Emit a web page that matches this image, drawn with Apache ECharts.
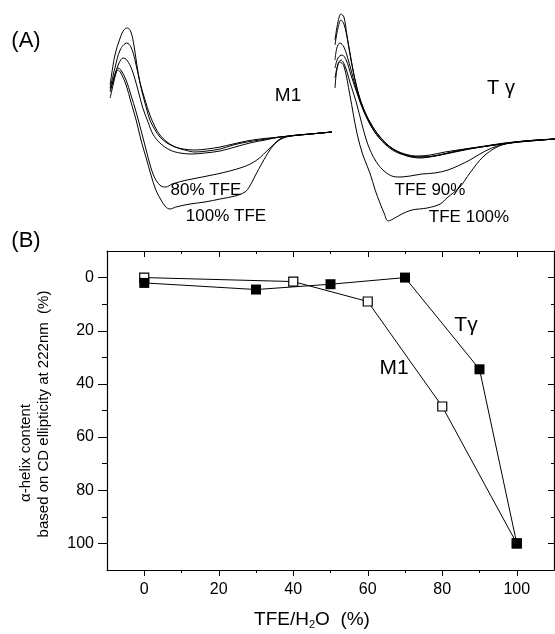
<!DOCTYPE html>
<html>
<head>
<meta charset="utf-8">
<script src="https://cdn.jsdelivr.net/npm/echarts@6/dist/echarts.min.js"></script>
<style>
html,body{margin:0;padding:0;background:#fff;}
#chart{width:555px;height:634px;}
</style>
</head>
<body>
<div id="chart"></div>
<script>
// ---------- Panel A: CD spectra (wavelength nm, ellipticity arbitrary units) ----------
const m1_a = [[190.3,46],[191.6,76],[193.0,93],[194.0,101],[195.0,103],[195.9,99],[196.7,86],[197.5,66],[198.3,49],[199.1,36],[200.2,21],[201.0,11],[202.4,1],[203.7,-6],[205.6,-12],[207.8,-16],[209.9,-18],[213.1,-19],[216.4,-18],[219.9,-16],[223.4,-13],[227.1,-10],[230.6,-8],[236.0,-6],[241.4,-4],[250.0,-1]];
const m1_b = [[190.3,43],[191.6,63],[193.0,81],[194.8,88],[195.9,84],[197.0,71],[198.3,49],[199.7,31],[201.0,16],[202.4,4],[203.7,-4],[205.6,-11],[207.8,-16],[210.4,-19],[213.1,-21],[216.4,-20],[219.9,-18],[223.4,-14],[227.1,-11],[230.6,-9],[236.0,-6],[241.4,-4],[250.0,-1]];
const m1_c = [[190.3,39],[191.6,56],[192.7,68],[193.8,73],[194.8,71],[196.2,61],[197.8,41],[199.1,23],[200.5,9],[201.8,-3],[203.7,-12],[206.4,-19],[209.1,-22],[212.3,-23],[215.8,-22],[219.9,-20],[223.9,-16],[227.9,-12],[232.0,-9],[236.0,-6],[241.4,-4],[250.0,-1]];
const m1_80 = [[190.3,41],[191.1,51],[191.9,60],[192.4,63],[193.2,61],[194.6,51],[195.9,36],[197.3,19],[198.6,1],[200.0,-19],[201.3,-37],[202.6,-49],[204.0,-55],[205.3,-56],[207.0,-53],[211.0,-49],[219.1,-43],[226.1,-36],[229.8,-29],[233.3,-17],[236.0,-8],[238.7,-5],[244.1,-3],[250.0,-1]];
const m1_100 = [[190.3,33],[191.1,46],[191.9,58],[192.4,61],[193.2,58],[194.6,46],[195.9,29],[197.3,11],[198.6,-9],[200.0,-27],[201.3,-44],[202.6,-59],[204.0,-69],[205.3,-76],[206.4,-78],[208.0,-76],[211.8,-73],[215.8,-71],[219.9,-68],[223.9,-65],[226.6,-61],[227.9,-55],[229.3,-45],[231.2,-32],[233.3,-19],[235.5,-10],[238.7,-5],[244.1,-3],[250.0,-1]];

const tg_a = [[190.0,100],[190.8,118],[191.6,126],[192.4,123],[193.2,105],[194.3,80],[195.7,55],[197.3,35],[199.4,18],[202.1,3],[205.3,-8],[208.8,-14],[212.3,-16],[215.6,-15],[219.6,-12],[225.0,-9],[230.4,-6],[235.7,-3],[241.1,-1],[249.2,1]];
const tg_b = [[190.0,95],[190.8,112],[191.6,120],[192.4,116],[193.5,98],[194.6,75],[195.9,52],[197.5,33],[199.7,16],[202.4,2],[205.6,-9],[209.1,-15],[212.9,-17],[216.4,-16],[220.4,-13],[225.8,-9],[231.2,-6],[236.5,-3],[241.9,-1],[249.2,1]];
const tg_c = [[190.0,80],[190.5,92],[191.3,97],[192.4,93],[193.8,77],[195.4,55],[197.0,36],[198.9,20],[201.3,5],[204.3,-6],[207.5,-13],[211.0,-17],[214.2,-17],[218.3,-15],[223.6,-10],[229.0,-7],[234.4,-4],[241.1,-1],[249.2,1]];
const tg_d = [[190.0,72],[190.8,82],[191.9,85],[193.0,80],[194.3,65],[195.9,47],[197.8,28],[200.0,12],[202.6,-1],[205.9,-11],[209.6,-16],[212.9,-18],[216.9,-16],[222.3,-12],[227.7,-8],[233.1,-5],[239.8,-2],[249.2,1]];
const tg_90 = [[190.0,62],[190.8,76],[191.6,80],[192.7,74],[194.0,58],[195.7,38],[197.3,15],[198.9,-5],[200.8,-20],[202.9,-30],[205.3,-36],[207.5,-37],[210.2,-36],[213.4,-34],[216.9,-33],[220.4,-30],[223.6,-25],[226.3,-20],[229.0,-14],[232.2,-8],[235.7,-4],[241.1,-1],[249.2,1]];
const tg_100 = [[190.0,52],[190.5,70],[191.3,78],[192.4,74],[194.0,45],[195.9,7],[197.5,-15],[199.4,-33],[200.8,-50],[202.1,-63],[203.2,-73],[204.3,-81],[206.1,-78],[208.0,-74],[210.7,-70],[214.8,-68],[218.3,-64],[220.1,-58],[223.6,-47],[226.3,-33],[229.8,-17],[233.6,-7],[237.1,-3],[242.5,-1],[249.2,1]];

// ---------- Panel B: alpha-helix content vs TFE ----------
const tfeM1 = [0, 40, 60, 80, 100];
const helixM1 = [0, 1.5, 9, 48.5, 100];
const tfeTg = [0, 30, 50, 70, 90, 100];
const helixTg = [2, 4.5, 2.5, 0, 34.5, 100];
const xTickValues = [0, 20, 40, 60, 80, 100];
const xMinorValues = [10, 30, 50, 70, 90];
const yTickValues = [0, 20, 40, 60, 80, 100];
const yMinorValues = [10, 30, 50, 70, 90];

const FONT = '"Liberation Sans", Arial, sans-serif';
const BLACK = '#000';

const chart = echarts.init(document.getElementById('chart'), null, {renderer: 'canvas'});

function zip(xs, ys) { return xs.map((x, i) => [x, ys[i]]); }

function cdLine(data, gi) {
  return {
    type: 'line', xAxisIndex: gi, yAxisIndex: gi, data: data,
    showSymbol: false, symbol: 'none', smooth: 0.35, clip: false,
    lineStyle: {color: BLACK, width: 1}, silent: true, animation: false
  };
}

function hiddenAxis(gi, min, max) {
  return {type: 'value', gridIndex: gi, min: min, max: max, show: false};
}

const axLine = {show: true, onZero: false, lineStyle: {color: BLACK, width: 1.2}};
const noLine = {show: false, onZero: false};

function xAx(pos, custom, len, inside, showLine, labels) {
  return {
    type: 'value', gridIndex: 2, position: pos, min: -10, max: 110,
    axisLine: showLine ? axLine : noLine,
    axisTick: {show: true, inside: inside, length: len, customValues: custom, lineStyle: {color: BLACK, width: 1}},
    axisLabel: labels ? {show: true, customValues: custom, margin: 12, color: BLACK, fontSize: 16, fontFamily: FONT} : {show: false},
    splitLine: {show: false}
  };
}
function yAx(pos, custom, len, inside, showLine, labels) {
  return {
    type: 'value', gridIndex: 2, position: pos, min: -10, max: 110, inverse: true,
    axisLine: showLine ? axLine : noLine,
    axisTick: {show: true, inside: inside, length: len, customValues: custom, lineStyle: {color: BLACK, width: 1}},
    axisLabel: labels ? {show: true, customValues: custom, margin: 13, color: BLACK, fontSize: 16, fontFamily: FONT} : {show: false},
    splitLine: {show: false}
  };
}

function txt(x, y, text, size, extra) {
  return Object.assign({
    type: 'text', x: x, y: y, silent: true,
    style: {text: text, fill: BLACK, font: size + 'px ' + FONT, textAlign: 'center', textVerticalAlign: 'middle'}
  }, extra || {});
}

const option = {
  backgroundColor: '#fff',
  animation: false,
  grid: [
    {left: 109, top: 11, width: 223, height: 220},
    {left: 335, top: 10, width: 220, height: 230},
    {left: 107, top: 251, width: 447, height: 319}
  ],
  xAxis: [
    hiddenAxis(0, 190, 250),
    hiddenAxis(1, 190, 249.2),
    xAx('bottom', xTickValues, 6, false, true, true),
    xAx('bottom', xMinorValues, 3, false, false, false),
    xAx('top', xTickValues, 6, true, true, false),
    xAx('top', xMinorValues, 3, true, false, false)
  ],
  yAxis: [
    hiddenAxis(0, -100, 120),
    hiddenAxis(1, -100, 130),
    yAx('left', yTickValues, 9, false, true, true),
    yAx('left', yMinorValues, 5, false, false, false),
    yAx('right', yTickValues, 6, true, true, false),
    yAx('right', yMinorValues, 3, true, false, false)
  ],
  series: [
    cdLine(m1_a, 0), cdLine(m1_b, 0), cdLine(m1_c, 0), cdLine(m1_80, 0), cdLine(m1_100, 0),
    cdLine(tg_a, 1), cdLine(tg_b, 1), cdLine(tg_c, 1), cdLine(tg_d, 1), cdLine(tg_90, 1), cdLine(tg_100, 1),
    {
      name: 'M1', type: 'line', xAxisIndex: 2, yAxisIndex: 2, data: zip(tfeM1, helixM1),
      symbol: 'rect', symbolSize: 9, showSymbol: true,
      lineStyle: {color: BLACK, width: 1},
      itemStyle: {color: '#fff', borderColor: BLACK, borderWidth: 1.2},
      z: 3
    },
    {
      name: 'Tγ', type: 'line', xAxisIndex: 2, yAxisIndex: 2, data: zip(tfeTg, helixTg),
      symbol: 'rect', symbolSize: 10, showSymbol: true,
      lineStyle: {color: BLACK, width: 1},
      itemStyle: {color: BLACK, borderColor: BLACK, borderWidth: 0},
      z: 4
    }
  ],
  graphic: [
    txt(26, 41, '(A)', 22),
    txt(26, 241, '(B)', 22),
    txt(288, 96, 'M1', 19),
    txt(501, 88, 'T γ', 20),
    txt(206, 190, '80% TFE', 17),
    txt(226, 216, '100% TFE', 17),
    txt(430, 190, 'TFE 90%', 17),
    txt(469, 217, 'TFE 100%', 17),
    txt(466, 325, 'Tγ', 21),
    txt(394, 368, 'M1', 21),
    txt(26, 453, 'α-helix content', 15, {rotation: Math.PI / 2}),
    txt(44, 414, 'based on CD ellipticity at 222nm  (%)', 15, {rotation: Math.PI / 2}),
    {
      type: 'text', x: 312, y: 620, silent: true,
      style: {
        text: '{a|TFE/H}{s|2}{a|O  (%)}',
        textAlign: 'center', textVerticalAlign: 'middle',
        rich: {
          a: {fontSize: 19, fontFamily: FONT, fill: BLACK, color: BLACK},
          s: {fontSize: 11, fontFamily: FONT, fill: BLACK, color: BLACK, padding: [10, 0, 0, 0]}
        }
      }
    }
  ]
};
chart.setOption(option);
</script>
</body>
</html>
